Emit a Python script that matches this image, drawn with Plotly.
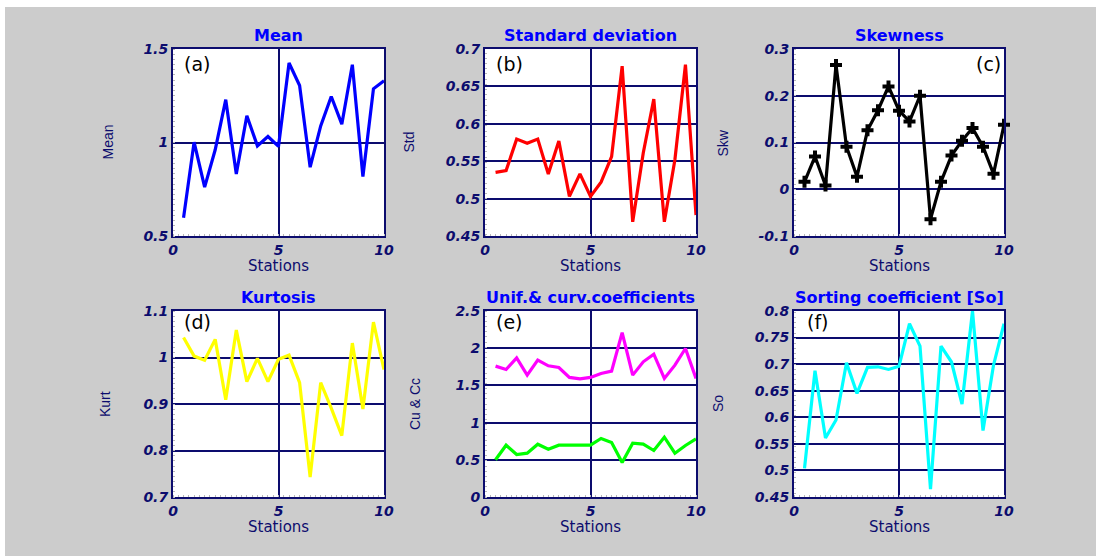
import plotly.graph_objects as go

W, H = 1096, 556

stations = [0.5, 1.0, 1.5, 2.0, 2.5, 3.0, 3.5, 4.0, 4.5, 5.0,
            5.5, 6.0, 6.5, 7.0, 7.5, 8.0, 8.5, 9.0, 9.5, 10.0]

mean_vals = [0.598, 1.002, 0.761, 0.961, 1.229, 0.832, 1.143, 0.982, 1.032, 0.979,
             1.425, 1.305, 0.868, 1.089, 1.246, 1.098, 1.416, 0.818, 1.287, 1.330]
std_vals = [0.535, 0.5375, 0.5795, 0.574, 0.5795, 0.533, 0.577, 0.503, 0.533, 0.503,
            0.522, 0.556, 0.677, 0.469, 0.561, 0.633, 0.469, 0.552, 0.679, 0.478]
skw_vals = [0.016, 0.070, 0.008, 0.266, 0.091, 0.027, 0.126, 0.169, 0.220, 0.168,
            0.145, 0.200, -0.064, 0.016, 0.072, 0.104, 0.131, 0.091, 0.033, 0.138]
kurt_vals = [1.043, 1.003, 0.994, 1.039, 0.909, 1.059, 0.948, 0.998, 0.948, 0.996,
             1.005, 0.946, 0.743, 0.946, 0.891, 0.832, 1.031, 0.889, 1.076, 0.974]
cu_vals = [1.759, 1.714, 1.870, 1.638, 1.839, 1.763, 1.741, 1.607, 1.589, 1.607,
           1.661, 1.692, 2.210, 1.638, 1.817, 1.920, 1.594, 1.772, 1.996, 1.594]
cc_vals = [0.500, 0.696, 0.571, 0.589, 0.710, 0.643, 0.696, 0.696, 0.696, 0.696,
           0.786, 0.732, 0.464, 0.723, 0.710, 0.625, 0.804, 0.589, 0.692, 0.781]
so_vals = [0.504, 0.6875, 0.561, 0.595, 0.7025, 0.645, 0.694, 0.695, 0.690, 0.696,
           0.776, 0.734, 0.465, 0.734, 0.704, 0.625, 0.800, 0.575, 0.698, 0.776]

x_ticks = [0, 5, 10]

panels = [
    dict(title="Mean", ylabel="Mean", tag="(a)", yr=[0.5, 1.5], yt=[0.5, 1, 1.5],
         ytxt=["0.5", "1", "1.5"], series=[(mean_vals, "#0000ff", False)], tagpos="left"),
    dict(title="Standard deviation", ylabel="Std", tag="(b)", yr=[0.45, 0.7],
         yt=[0.45, 0.5, 0.55, 0.6, 0.65, 0.7],
         ytxt=["0.45", "0.5", "0.55", "0.6", "0.65", "0.7"],
         series=[(std_vals, "#ff0000", False)], tagpos="left"),
    dict(title="Skewness", ylabel="Skw", tag="(c)", yr=[-0.1, 0.3],
         yt=[-0.1, 0, 0.1, 0.2, 0.3], ytxt=["-0.1", "0", "0.1", "0.2", "0.3"],
         series=[(skw_vals, "#000000", True)], tagpos="right"),
    dict(title="Kurtosis", ylabel="Kurt", tag="(d)", yr=[0.7, 1.1],
         yt=[0.7, 0.8, 0.9, 1.0, 1.1], ytxt=["0.7", "0.8", "0.9", "1", "1.1"],
         series=[(kurt_vals, "#ffff00", False)], tagpos="left"),
    dict(title="Unif.& curv.coefficients", ylabel="Cu & Cc", tag="(e)", yr=[0, 2.5],
         yt=[0, 0.5, 1, 1.5, 2, 2.5], ytxt=["0", "0.5", "1", "1.5", "2", "2.5"],
         series=[(cu_vals, "#ff00ff", False), (cc_vals, "#00ff00", False)], tagpos="left"),
    dict(title="Sorting coefficient [So]", ylabel="So", tag="(f)", yr=[0.45, 0.8],
         yt=[0.45, 0.5, 0.55, 0.6, 0.65, 0.7, 0.75, 0.8],
         ytxt=["0.45", "0.5", "0.55", "0.6", "0.65", "0.7", "0.75", "0.8"],
         series=[(so_vals, "#00ffff", False)], tagpos="left"),
]

# pixel boxes of plot areas (left, right, top, bottom)
cols = [(173, 384), (485, 696), (794, 1004)]
rows = [(49, 236), (311, 497)]
ylab_x = [[107, 408, 722], [105, 415, 718]]
tag_y_off = [16, 12]

NAVY = "#0c0c6e"
fig = go.Figure()
annotations = []
shapes = [
    dict(type="rect", xref="paper", yref="paper", x0=0, x1=5 / W, y0=0, y1=1,
         fillcolor="white", line=dict(width=0), layer="below"),
    dict(type="rect", xref="paper", yref="paper", x0=0, x1=1, y0=1 - 7 / H, y1=1,
         fillcolor="white", line=dict(width=0), layer="below"),
]

for i, p in enumerate(panels):
    r, c = divmod(i, 3)
    left, right = cols[c]
    top, bottom = rows[r]
    n = i + 1
    xa = "x" if n == 1 else f"x{n}"
    ya = "y" if n == 1 else f"y{n}"
    for vals, color, markers in p["series"]:
        fig.add_trace(go.Scatter(
            x=stations, y=vals, xaxis=xa, yaxis=ya,
            mode="lines+markers" if markers else "lines",
            line=dict(color=color, width=3.2),
            marker=dict(symbol="cross", size=10, color="#000000",
                        line=dict(width=0)) if markers else None,
            showlegend=False, cliponaxis=not markers))
    tickfont = dict(family="DejaVu Sans", size=14, color=NAVY, weight="bold", style="italic")
    axcommon = dict(showline=True, linecolor=NAVY, linewidth=2, mirror=True,
                    showgrid=True, gridcolor=NAVY, gridwidth=1.6, zeroline=False,
                    ticks="", tickfont=tickfont, automargin=False)
    fig.layout[("xaxis" if n == 1 else f"xaxis{n}")] = dict(
        domain=[left / W, right / W], anchor=ya, range=[0, 10],
        tickvals=x_ticks, ticktext=[str(v) for v in x_ticks],
        minor=dict(ticks="inside", ticklen=2, tickcolor="#b8b8b8", dtick=0.25, showgrid=False),
        **axcommon)
    yr = p["yr"]
    fig.layout[("yaxis" if n == 1 else f"yaxis{n}")] = dict(
        domain=[1 - bottom / H, 1 - top / H], anchor=xa, range=yr,
        tickvals=p["yt"], ticktext=p["ytxt"],
        minor=dict(ticks="inside", ticklen=2, tickcolor="#b8b8b8",
                   dtick=(yr[1] - yr[0]) / 36, showgrid=False),
        **axcommon)
    cx = (left + right) / 2
    # title
    annotations.append(dict(x=cx / W, y=1 - (top - 14) / H, xref="paper", yref="paper",
                            text=p["title"], showarrow=False, xanchor="center", yanchor="middle",
                            font=dict(family="DejaVu Sans", size=16, color="#0000ff", weight="bold")))
    # x label
    annotations.append(dict(x=cx / W, y=1 - (bottom + 30) / H, xref="paper", yref="paper",
                            text="Stations", showarrow=False, xanchor="center", yanchor="middle",
                            font=dict(family="DejaVu Sans", size=15, color=NAVY)))
    # y label
    annotations.append(dict(x=ylab_x[r][c] / W, y=1 - ((top + bottom) / 2) / H,
                            xref="paper", yref="paper", text=p["ylabel"], textangle=-90,
                            showarrow=False, xanchor="center", yanchor="middle",
                            font=dict(family="Liberation Sans", size=14, color=NAVY)))
    # panel tag
    tx = left + 24 if p["tagpos"] == "left" else right - 16
    annotations.append(dict(x=tx / W, y=1 - (top + tag_y_off[r] - 1) / H, xref="paper", yref="paper",
                            text=p["tag"], showarrow=False, xanchor="center", yanchor="middle",
                            font=dict(family="DejaVu Sans", size=19, color="#000000")))

fig.update_layout(
    width=W, height=H, margin=dict(l=0, r=0, t=0, b=0, autoexpand=False),
    paper_bgcolor="#cccccc", plot_bgcolor="#ffffff",
    annotations=annotations, shapes=shapes, showlegend=False,
)

fig.write_html("out.html")
